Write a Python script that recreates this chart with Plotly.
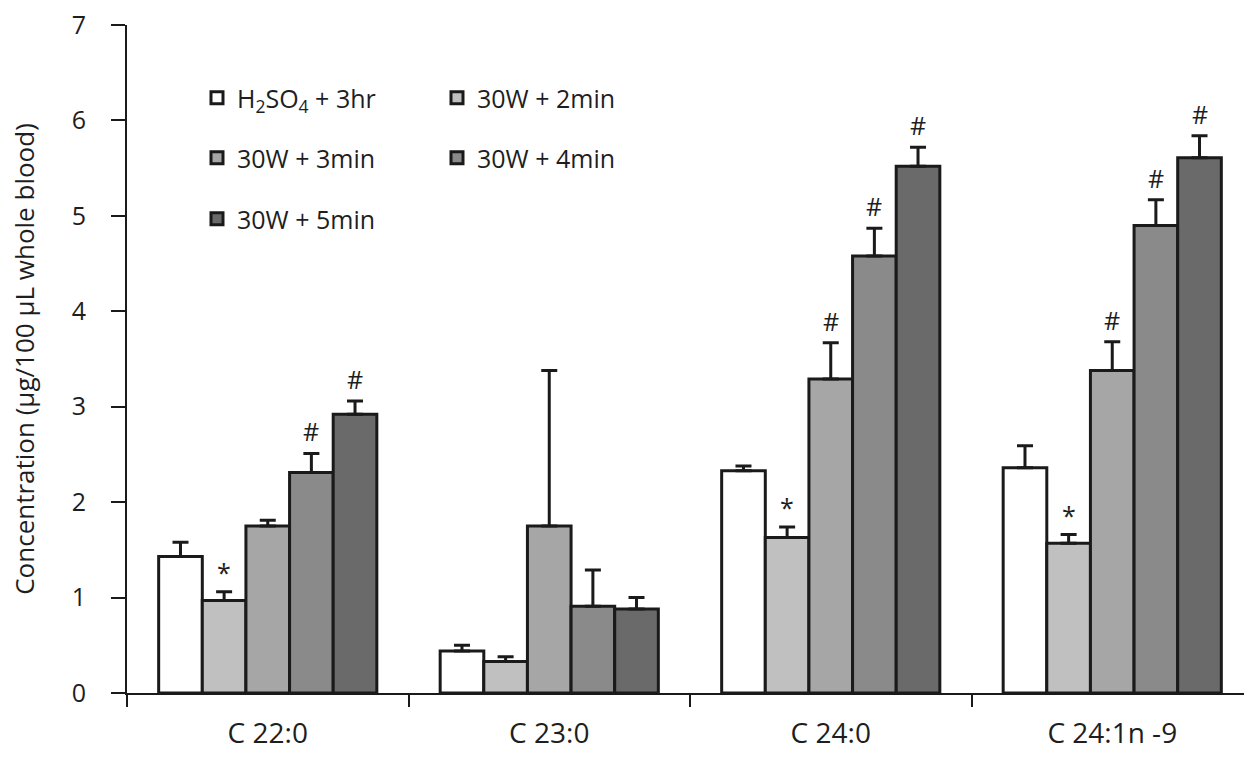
import plotly.graph_objects as go

categories = ["C 22:0", "C 23:0", "C 24:0", "C 24:1n -9"]
series_names = ["H<sub>2</sub>SO<sub>4</sub> + 3hr", "30W + 2min", "30W + 3min", "30W + 4min", "30W + 5min"]
colors = ["#ffffff", "#c0c0c0", "#a6a6a6", "#8a8a8a", "#6a6a6a"]

h2so4_3hr = [1.43, 0.44, 2.33, 2.36]
w30_2min = [0.97, 0.33, 1.63, 1.57]
w30_3min = [1.75, 1.75, 3.29, 3.38]
w30_4min = [2.31, 0.91, 4.58, 4.90]
w30_5min = [2.92, 0.88, 5.52, 5.61]

h2so4_3hr_err = [0.15, 0.06, 0.05, 0.23]
w30_2min_err = [0.09, 0.05, 0.11, 0.09]
w30_3min_err = [0.06, 1.63, 0.38, 0.30]
w30_4min_err = [0.20, 0.38, 0.29, 0.27]
w30_5min_err = [0.14, 0.12, 0.20, 0.23]

values = [h2so4_3hr, w30_2min, w30_3min, w30_4min, w30_5min]
errors = [h2so4_3hr_err, w30_2min_err, w30_3min_err, w30_4min_err, w30_5min_err]

# significance marks per series per category
marks = [
    ["", "", "", ""],
    ["*", "", "*", "*"],
    ["", "", "#", "#"],
    ["#", "", "#", "#"],
    ["#", "", "#", "#"],
]

legend_of = ["legend", "legend", "legend2", "legend2", "legend3"]

FONT = "Open Sans"
TXT = "#1e1e1e"
bargap = 0.225

fig = go.Figure()
for i, (name, vals, errs, col) in enumerate(zip(series_names, values, errors, colors)):
    fig.add_trace(go.Bar(
        x=categories, y=vals, name=name,
        marker=dict(color=col, line=dict(color="#1a1a1a", width=3)),
        error_y=dict(type="data", array=errs, arrayminus=[0] * len(errs), symmetric=False,
                     color="#1a1a1a", thickness=3, width=8),
        legend=legend_of[i],
    ))

n = len(series_names)
gw = 1 - bargap
bw = gw / n
for i in range(n):
    for j in range(len(categories)):
        m = marks[i][j]
        if m:
            xc = j - gw / 2 + (i + 0.5) * bw
            fig.add_annotation(x=xc, y=values[i][j] + errors[i][j], text=m,
                               showarrow=False, yanchor="bottom", yshift=3 if m == "#" else 1,
                               font=dict(family=FONT, size=25, color=TXT))

W, H = 1244, 759
ml, mt, mb = 127, 25, 66
pw = W - ml
ph = H - mt - mb
cat_px = 281.5

def ly(ypx):
    return 1 - (ypx - mt) / ph

def lx(xpx):
    return (xpx - ml) / pw

leg_common = dict(orientation="h", xanchor="left", yanchor="middle",
                  font=dict(family=FONT, size=25, color=TXT),
                  bgcolor="rgba(0,0,0,0)", entrywidth=195, entrywidthmode="pixels",
                  itemclick=False, traceorder="normal")

fig.update_layout(
    width=W, height=H,
    margin=dict(l=ml, r=0, t=mt, b=mb),
    paper_bgcolor="white", plot_bgcolor="white",
    barmode="group", bargap=bargap, bargroupgap=0,
    font=dict(family=FONT, size=25, color=TXT),
    legend=dict(x=lx(197), y=ly(98), **leg_common),
    legend2=dict(x=lx(197), y=ly(158), **leg_common),
    legend3=dict(x=lx(197), y=ly(219), **leg_common),
    xaxis=dict(type="category", range=[-0.5, -0.5 + pw / cat_px],
               showline=True, linecolor="#1a1a1a", linewidth=2,
               ticks="outside", tickson="boundaries", ticklen=12, tickwidth=2, tickcolor="#1a1a1a",
               ticklabelstandoff=14,
               tickfont=dict(family=FONT, size=28, color=TXT), showgrid=False, zeroline=False),
    yaxis=dict(range=[0, 7], dtick=1, showline=True, linecolor="#1a1a1a", linewidth=2,
               ticks="outside", ticklen=14, tickwidth=2, tickcolor="#1a1a1a",
               ticklabelstandoff=20,
               tickfont=dict(family=FONT, size=25, color=TXT), showgrid=False, zeroline=False,
               title=dict(text="Concentration (µg/100 µL whole blood)",
                          font=dict(family=FONT, size=26, color=TXT), standoff=30)),
)

fig.write_html("out.html")
